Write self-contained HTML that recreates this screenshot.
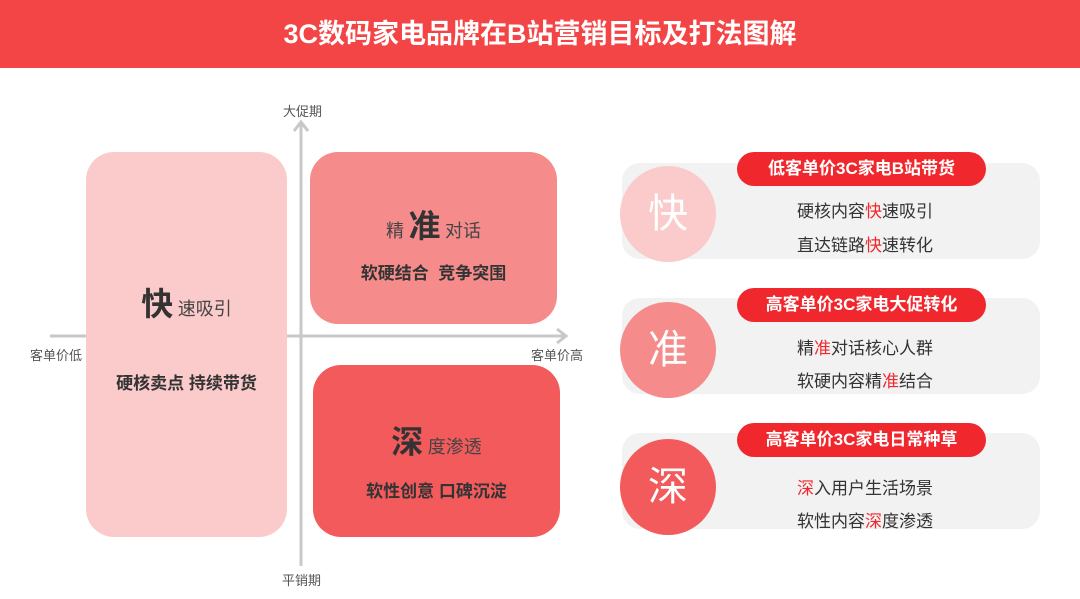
<!DOCTYPE html><html><head><meta charset="utf-8"><style>
body{margin:0;width:1080px;height:599px;background:#fff;position:relative;overflow:hidden;font-family:"Liberation Sans","Noto Sans CJK SC",sans-serif;color:#333}
.a{position:absolute}
.hdr{left:0;top:0;width:1080px;height:68px;background:#f44546;color:#fff;font-size:27px;font-weight:bold;text-align:center;line-height:68px}
.box{position:absolute;border-radius:28px;text-align:center}
.lbl{font-size:13px;color:#555}
.gray{position:absolute;left:622px;width:418px;height:96px;background:#f2f2f2;border-radius:18px}
.circ{position:absolute;left:620px;width:96px;height:96px;border-radius:50%;color:#fff;font-size:40px;text-align:center;line-height:96px}
.pill{position:absolute;left:737px;width:249px;height:34px;background:#f0282d;border-radius:17px;color:#fff;font-size:17px;font-weight:bold;text-align:center;line-height:34px}
.t{position:absolute;left:720px;width:290px;text-align:center;font-size:17px;color:#333}
.t b{color:#f0282d;font-weight:normal}
</style></head><body>
<div class="a hdr">3C数码家电品牌在B站营销目标及打法图解</div>
<svg class="a" style="left:0;top:0" width="1080" height="599">
<g stroke="#c8c8c8" stroke-width="3" fill="none">
<line x1="301" y1="122" x2="301" y2="566"/><polyline points="294,131 301,122 308,131"/>
<line x1="50" y1="336" x2="566" y2="336"/><polyline points="557,329 566,336 557,343"/>
</g></svg>
<div class="a lbl" style="left:283px;top:101px">大促期</div>
<div class="a lbl" style="left:282px;top:570px">平销期</div>
<div class="a lbl" style="left:30px;top:345px">客单价低</div>
<div class="a lbl" style="left:531px;top:345px">客单价高</div>
<div class="box" style="left:86px;top:152px;width:201px;height:385px;background:#fbcacb">
<div class="a" style="left:0;width:201px;top:127px"><span style="font-size:32px;font-weight:bold">快</span> <span style="font-size:18px;color:#444">速吸引</span></div>
<div class="a" style="left:0;width:201px;top:217px;font-size:17px;font-weight:bold">硬核卖点 持续带货</div></div>
<div class="box" style="left:310px;top:152px;width:247px;height:172px;background:#f58b8b">
<div class="a" style="left:0;width:247px;top:49px"><span style="font-size:18px;color:#444">精</span> <span style="font-size:32px;font-weight:bold">准</span> <span style="font-size:18px;color:#444">对话</span></div>
<div class="a" style="left:0;width:247px;top:107px;font-size:17px;font-weight:bold">软硬结合&nbsp;&nbsp;竞争突围</div></div>
<div class="box" style="left:313px;top:365px;width:247px;height:172px;background:#f25a5c">
<div class="a" style="left:0;width:247px;top:52px"><span style="font-size:32px;font-weight:bold">深</span> <span style="font-size:18px;color:#444">度渗透</span></div>
<div class="a" style="left:0;width:247px;top:112px;font-size:17px;font-weight:bold">软性创意 口碑沉淀</div></div>

<div class="gray" style="top:163px"></div><div class="circ" style="top:166px;background:#fbcacb">快</div>
<div class="pill" style="top:152px">低客单价3C家电B站带货</div>
<div class="t" style="top:197px">硬核内容<b>快</b>速吸引</div><div class="t" style="top:231px">直达链路<b>快</b>速转化</div>

<div class="gray" style="top:298px"></div><div class="circ" style="top:302px;background:#f58b8b">准</div>
<div class="pill" style="top:288px">高客单价3C家电大促转化</div>
<div class="t" style="top:334px">精<b>准</b>对话核心人群</div><div class="t" style="top:367px">软硬内容精<b>准</b>结合</div>

<div class="gray" style="top:433px"></div><div class="circ" style="top:439px;background:#f25a5c">深</div>
<div class="pill" style="top:423px">高客单价3C家电日常种草</div>
<div class="t" style="top:474px"><b>深</b>入用户生活场景</div><div class="t" style="top:507px">软性内容<b>深</b>度渗透</div>
</body></html>
